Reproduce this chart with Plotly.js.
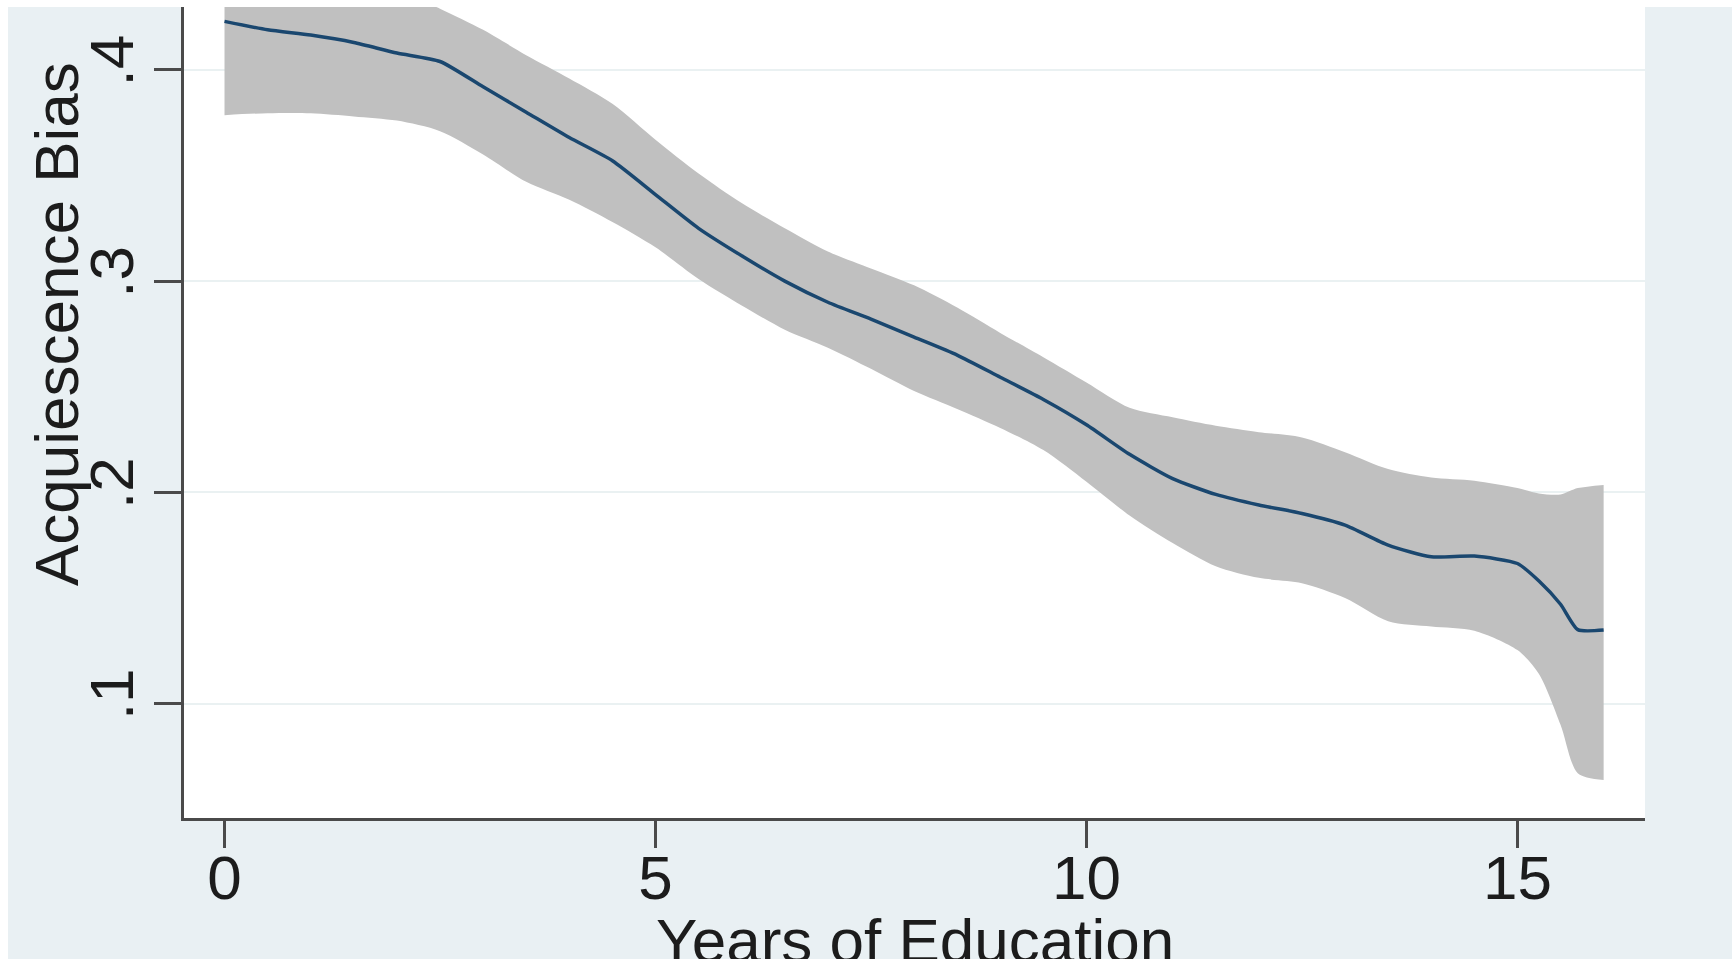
<!DOCTYPE html>
<html>
<head>
<meta charset="utf-8">
<script src="https://cdn.plot.ly/plotly-3.0.1.min.js"></script>
<style>
  html, body { margin: 0; padding: 0; background: #ffffff; width: 1732px; height: 959px; overflow: hidden; }
  #chart { position: absolute; left: 8px; top: 7px; width: 1724px; height: 952px; }
</style>
</head>
<body>
<div id="chart"></div>
<script>
// Years of education (x) grid
const years = [0, 0.5, 1, 1.5, 2, 2.5, 3, 3.5, 4, 4.5, 5, 5.5, 6, 6.5, 7, 7.5, 8, 8.5, 9, 9.5,
               10, 10.5, 11, 11.5, 12, 12.5, 13, 13.5, 14, 14.5, 15, 15.25, 15.5, 15.7, 16];
// Smoothed acquiescence bias (fitted line)
const fitted = [0.423, 0.419, 0.4165, 0.413, 0.408, 0.404, 0.392, 0.380, 0.368, 0.357,
                0.341, 0.325, 0.312, 0.300, 0.290, 0.282, 0.2735, 0.265, 0.2545, 0.244,
                0.232, 0.218, 0.2065, 0.199, 0.194, 0.190, 0.1845, 0.175, 0.1695, 0.1698,
                0.1663, 0.158, 0.147, 0.135, 0.1348];
// Upper confidence bound
const upperCI = [0.462, 0.456, 0.450, 0.445, 0.438, 0.429, 0.419, 0.407, 0.396, 0.384,
                 0.367, 0.351, 0.337, 0.325, 0.314, 0.306, 0.298, 0.2875, 0.2755, 0.264,
                 0.252, 0.240, 0.2355, 0.2315, 0.2285, 0.226, 0.219, 0.211, 0.207, 0.2055,
                 0.202, 0.1995, 0.199, 0.202, 0.2035];
// Lower confidence bound
const lowerCI = [0.3786, 0.3795, 0.3795, 0.378, 0.376, 0.371, 0.360, 0.347, 0.3385, 0.328,
                 0.316, 0.301, 0.2885, 0.277, 0.2685, 0.2585, 0.248, 0.2395, 0.2305, 0.220,
                 0.205, 0.189, 0.176, 0.165, 0.1595, 0.157, 0.150, 0.139, 0.1365, 0.1345,
                 0.1253, 0.114, 0.090, 0.067, 0.0638];
// Tick labels
const xTickVals = [0, 5, 10, 15];
const xTickText = ["0", "5", "10", "15"];
const yTickVals = [0.1, 0.2, 0.3, 0.4];
const yTickText = [".1", ".2", ".3", ".4"];
const xTitle = "Years of Education";
const yTitle = "Acquiescence Bias";

const FONT = "Liberation Sans, Arial, sans-serif";
const TEXT = "#1c1c1c";
const AXIS = "#4a4a4a";
const BG = "#e9f0f3";

const traces = [
  { x: years, y: lowerCI, type: "scatter", mode: "lines",
    line: { width: 0, shape: "spline", smoothing: 0.8 }, hoverinfo: "skip", showlegend: false },
  { x: years, y: upperCI, type: "scatter", mode: "lines", fill: "tonexty",
    fillcolor: "rgb(192,192,192)",
    line: { width: 0, shape: "spline", smoothing: 0.8 }, hoverinfo: "skip", showlegend: false },
  { x: years, y: fitted, type: "scatter", mode: "lines",
    line: { color: "#1a476f", width: 3.5, shape: "spline", smoothing: 0.6 }, showlegend: false }
];

const layout = {
  width: 1724, height: 952,
  paper_bgcolor: BG, plot_bgcolor: "#ffffff",
  margin: { l: 176, r: 87, t: 0, b: 141, pad: 0 },
  font: { family: FONT, color: TEXT, size: 62 },
  showlegend: false,
  xaxis: {
    range: [-0.47, 16.48], tickmode: "array", tickvals: xTickVals, ticktext: xTickText,
    showgrid: false, zeroline: false,
    showline: true, linecolor: AXIS, linewidth: 3,
    ticks: "outside", ticklen: 27, tickwidth: 3, tickcolor: AXIS,
    tickfont: { family: FONT, size: 62, color: TEXT }, ticklabelstandoff: -23
  },
  yaxis: {
    range: [0.0458, 0.4298], tickmode: "array", tickvals: yTickVals, ticktext: yTickText,
    showgrid: true, gridcolor: "#eaf1f2", gridwidth: 2, zeroline: false,
    showline: true, linecolor: AXIS, linewidth: 3,
    ticks: "outside", ticklen: 27, tickwidth: 3, tickcolor: AXIS, tickangle: -90,
    tickfont: { family: FONT, size: 62, color: TEXT }, ticklabelstandoff: -4
  },
  annotations: [
    { text: xTitle, xref: "paper", yref: "paper", x: 0.5, y: 0, xanchor: "center", yanchor: "top",
      yshift: -86, showarrow: false, font: { family: FONT, size: 62, color: TEXT } },
    { text: yTitle, xref: "paper", yref: "paper", x: 0, y: 0.609, xanchor: "center", yanchor: "middle",
      xshift: -128, textangle: -90, showarrow: false, font: { family: FONT, size: 62, color: TEXT } }
  ]
};

Plotly.newPlot("chart", traces, layout, { displayModeBar: false, staticPlot: true });
</script>
</body>
</html>
